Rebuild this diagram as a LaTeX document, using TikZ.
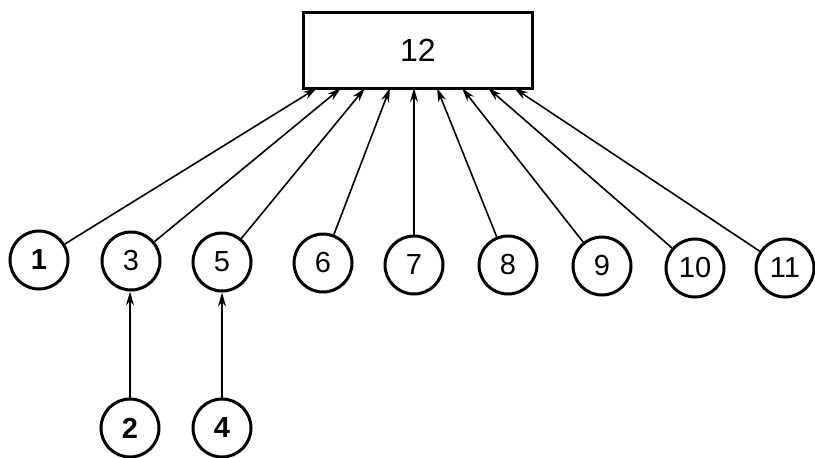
\documentclass[tikz,border=0pt]{standalone}
\usepackage{fontspec}
\setmainfont{Liberation Sans}
\usetikzlibrary{arrows.meta}
\begin{document}
\begin{tikzpicture}[x=1pt,y=-1pt,
  circ/.style={circle,draw,line width=3pt,minimum size=58pt,inner sep=0pt,font=\fontsize{29}{29}\selectfont},
  boxnode/.style={rectangle,draw,line width=3pt,minimum width=229pt,minimum height=76pt,inner sep=0pt,font=\fontsize{32}{32}\selectfont},
  arr/.style={line width=1.6pt,-{Stealth[length=14pt,width=8pt]}}]
\useasboundingbox (0,0) rectangle (815,458);
\node[boxnode] (b) at (418,50) {12};
\node[circ] (c1) at (39,260) {\bfseries 1};
\node[circ] (c3) at (131,261) {3};
\node[circ] (c5) at (222,262) {5};
\node[circ] (c6) at (323,263) {6};
\node[circ] (c7) at (414,265) {7};
\node[circ] (c8) at (508,265) {8};
\node[circ] (c9) at (602,266) {9};
\node[circ] (c10) at (695,268) {10};
\node[circ] (c11) at (785,268) {11};
\node[circ] (c2) at (130,428) {\bfseries 2};
\node[circ] (c4) at (222,428) {\bfseries 4};
\coordinate (t1) at (317,88);
\coordinate (t3) at (341,88);
\coordinate (t5) at (365,88);
\coordinate (t6) at (390,88);
\coordinate (t7) at (414,88);
\coordinate (t8) at (437,88);
\coordinate (t9) at (462,88);
\coordinate (t10) at (488,88);
\coordinate (t11) at (514,88);
\draw[arr] (c1) -- (t1);
\draw[arr] (c3) -- (t3);
\draw[arr] (c5) -- (t5);
\draw[arr] (c6) -- (t6);
\draw[arr] (c7) -- (t7);
\draw[arr] (c8) -- (t8);
\draw[arr] (c9) -- (t9);
\draw[arr] (c10) -- (t10);
\draw[arr] (c11) -- (t11);
\draw[arr] (c2) -- (c2 |- c3.south);
\draw[arr] (c4) -- (c4 |- c5.south);
\end{tikzpicture}
\end{document}
